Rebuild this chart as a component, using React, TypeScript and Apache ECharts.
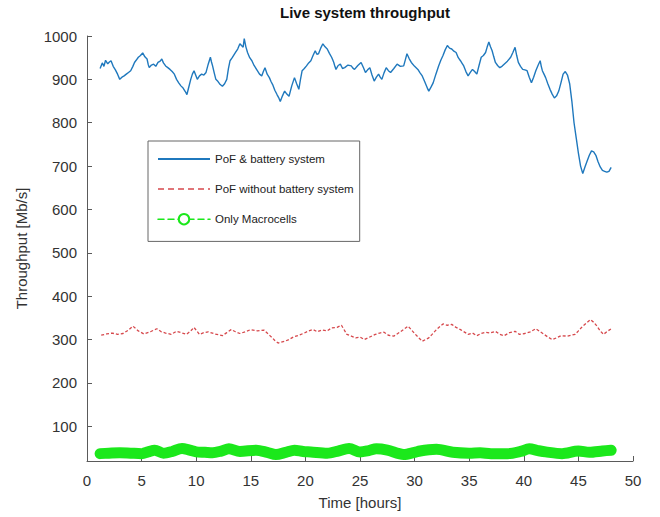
import React, { useEffect, useRef } from "react";
import * as echarts from "echarts";

const xTicks = [0, 5, 10, 15, 20, 25, 30, 35, 40, 45, 50];
const yTicks = [100, 200, 300, 400, 500, 600, 700, 800, 900, 1000];

const seriesNames = ["PoF & battery system", "PoF without battery system", "Only Macrocells"];

const pofBattery: [number, number][] = [
  [1.2,925],[1.4,938],[1.55,930],[1.7,944],[1.9,936],[2.05,940],[2.2,943],[2.4,930],[2.6,922],[2.8,912],[3.0,900],[3.2,905],[3.4,908],[3.6,912],[3.8,916],[4.0,920],[4.2,930],[4.35,939],[4.5,944],[4.7,951],[4.9,955],[5.1,961],[5.3,952],[5.5,947],[5.6,935],[5.7,927],[5.9,933],[6.1,935],[6.3,930],[6.5,939],[6.7,942],[6.85,947],[7.0,938],[7.2,931],[7.4,927],[7.6,923],[7.8,918],[8.0,912],[8.2,900],[8.4,892],[8.6,885],[8.8,880],[9.0,872],[9.15,865],[9.3,880],[9.5,900],[9.65,912],[9.8,920],[9.95,910],[10.1,900],[10.3,908],[10.5,912],[10.7,910],[10.9,916],[11.1,935],[11.3,951],[11.4,940],[11.5,931],[11.65,915],[11.8,900],[12.0,895],[12.2,888],[12.4,884],[12.6,890],[12.8,900],[12.95,925],[13.1,943],[13.3,950],[13.6,962],[13.8,970],[14.0,982],[14.15,978],[14.3,974],[14.4,994],[14.55,975],[14.7,962],[14.9,950],[15.1,943],[15.3,932],[15.6,920],[15.8,912],[16.0,908],[16.15,918],[16.3,927],[16.5,912],[16.7,904],[16.85,895],[17.0,888],[17.2,875],[17.4,865],[17.55,858],[17.7,849],[17.9,862],[18.1,873],[18.3,866],[18.5,861],[18.75,885],[19.0,904],[19.2,890],[19.4,877],[19.55,900],[19.7,920],[19.9,925],[20.1,931],[20.3,938],[20.5,943],[20.7,955],[20.9,966],[21.05,958],[21.2,959],[21.4,972],[21.6,982],[21.8,975],[22.0,970],[22.2,960],[22.4,951],[22.5,945],[22.6,939],[22.7,930],[22.8,923],[23.0,932],[23.2,935],[23.4,925],[23.6,927],[23.9,933],[24.2,931],[24.35,926],[24.5,923],[24.8,932],[25.1,939],[25.3,928],[25.5,916],[25.7,922],[25.9,927],[26.1,910],[26.3,896],[26.5,905],[26.7,912],[26.85,905],[27.0,900],[27.2,915],[27.4,927],[27.6,920],[27.8,916],[28.1,925],[28.4,935],[28.7,930],[29.0,931],[29.15,945],[29.3,959],[29.5,948],[29.7,939],[30.0,930],[30.3,923],[30.5,915],[30.7,908],[30.9,896],[31.1,884],[31.2,878],[31.3,873],[31.5,882],[31.7,892],[31.95,912],[32.2,931],[32.4,944],[32.6,955],[32.8,968],[33.0,978],[33.2,972],[33.4,970],[33.6,965],[33.8,962],[34.0,950],[34.2,943],[34.35,937],[34.5,931],[34.7,918],[34.9,908],[35.1,916],[35.3,923],[35.5,918],[35.7,912],[35.9,932],[36.1,951],[36.3,955],[36.5,962],[36.65,975],[36.8,986],[36.95,975],[37.1,966],[37.25,952],[37.4,939],[37.6,932],[37.8,927],[38.0,930],[38.2,935],[38.5,942],[38.8,951],[39.0,962],[39.2,974],[39.35,955],[39.5,939],[39.7,930],[39.9,923],[40.1,922],[40.3,920],[40.5,905],[40.7,892],[40.9,905],[41.1,920],[41.3,932],[41.5,943],[41.6,930],[41.7,920],[41.85,912],[42.0,904],[42.2,890],[42.4,877],[42.6,866],[42.8,857],[43.0,862],[43.2,873],[43.4,892],[43.6,912],[43.8,918],[44.0,910],[44.2,890],[44.4,850],[44.6,800],[44.8,765],[45.0,730],[45.2,700],[45.4,683],[45.6,698],[45.8,712],[46.0,725],[46.2,735],[46.4,733],[46.6,725],[46.8,710],[47.0,698],[47.2,690],[47.4,688],[47.6,686],[47.8,688],[48.0,697]
];

const pofNoBattery: [number, number][] = [
  [1.3,310],[1.8,313],[2.3,315],[2.8,312],[3.3,314],[3.8,322],[4.2,331],[4.7,320],[5.2,313],[5.8,318],[6.4,325],[6.8,318],[7.2,315],[7.7,312],[8.2,319],[8.6,316],[9.1,312],[9.5,320],[9.8,328],[10.3,312],[10.7,316],[11.1,318],[11.7,313],[12.4,309],[12.8,316],[13.2,323],[13.6,318],[14.0,314],[14.5,318],[15.0,323],[15.6,320],[16.2,322],[16.8,308],[17.2,298],[17.5,292],[18.1,296],[18.5,300],[18.9,306],[19.4,310],[19.9,315],[20.3,320],[20.7,323],[21.1,318],[21.5,322],[22.0,320],[22.4,327],[22.9,328],[23.3,333],[23.8,312],[24.2,308],[24.6,304],[25.0,306],[25.4,300],[25.9,306],[26.4,312],[26.8,315],[27.2,317],[27.6,310],[28.1,308],[28.7,318],[29.4,331],[30.0,314],[30.7,296],[31.3,304],[31.6,312],[32.0,323],[32.6,336],[33.0,333],[33.4,335],[33.8,328],[34.2,323],[34.9,312],[35.3,315],[35.7,309],[36.1,314],[36.5,317],[36.9,315],[37.4,319],[37.8,312],[38.2,309],[38.7,316],[39.2,319],[39.6,312],[40.1,314],[40.6,318],[41.1,325],[41.8,313],[42.2,306],[42.6,300],[43.0,304],[43.4,309],[44.0,308],[44.7,312],[45.0,320],[45.4,331],[46.1,346],[46.4,340],[46.7,331],[47.0,320],[47.3,312],[47.6,318],[48.0,325]
];

const macrocells: [number, number][] = [
  [1.2,37],[2.0,38],[3.0,39],[4.0,38],[5.0,37],[5.6,41],[6.2,45],[7.0,38],[7.8,42],[8.7,49],[9.4,45],[10.0,41],[10.8,40],[11.5,39],[12.3,43],[13.0,48],[14.0,42],[15.5,45],[16.5,40],[17.3,35],[18.2,40],[19.0,45],[19.8,42],[20.5,41],[22.0,38],[23.0,43],[24.0,49],[25.0,41],[25.8,44],[26.5,48],[27.5,45],[29.0,35],[30.0,40],[30.5,43],[31.3,46],[32.0,47],[33.5,40],[35.0,38],[36.0,39],[37.0,37],[38.5,37],[39.7,42],[40.5,48],[41.3,44],[42.0,41],[43.5,37],[45.0,43],[46.0,40],[47.2,43],[48.0,45]
];

const AXIS = "#5a5a5a";
const TEXT = "#333333";
const FONT = "Liberation Sans, Arial, sans-serif";

export default function App() {
  const ref = useRef<HTMLDivElement>(null);
  useEffect(() => {
    if (!ref.current) return;
    const chart = echarts.init(ref.current, null, { renderer: "svg" });
    chart.setOption({
      animation: false,
      backgroundColor: "#ffffff",
      title: {
        text: "Live system throughput",
        left: 360,
        textAlign: "center",
        top: 0,
        textStyle: { fontFamily: FONT, fontSize: 15, fontWeight: "bold", color: "#111" },
      },
      grid: { left: 87, right: 27, top: 36, bottom: 56 },
      legend: {
        orient: "vertical",
        left: 148,
        top: 141,
        padding: [12, 6, 16, 9],
        itemGap: 18,
        itemWidth: 52,
        itemHeight: 13,
        borderColor: "#666",
        borderWidth: 1,
        backgroundColor: "#fff",
        textStyle: { fontFamily: FONT, fontSize: 11.5, color: "#222" },
        data: [
          { name: seriesNames[0], itemStyle: { opacity: 0 } },
          { name: seriesNames[1], itemStyle: { opacity: 0 }, lineStyle: { type: [6, 4], width: 1.3 } },
          { name: seriesNames[2], lineStyle: { width: 1.5, type: [6, 4] } },
        ],
      },
      xAxis: {
        type: "value",
        min: xTicks[0],
        max: xTicks[xTicks.length - 1],
        interval: 5,
        name: "Time [hours]",
        nameLocation: "middle",
        nameGap: 34,
        nameTextStyle: { fontFamily: FONT, fontSize: 15, color: TEXT },
        axisLine: { show: true, lineStyle: { color: AXIS, width: 1 } },
        axisTick: { show: true, inside: true, length: 5, lineStyle: { color: AXIS } },
        axisLabel: { fontFamily: FONT, fontSize: 15, color: TEXT, margin: 12 },
        splitLine: { show: false },
      },
      yAxis: {
        type: "value",
        min: 20,
        max: yTicks[yTicks.length - 1],
        splitNumber: 10,
        name: "Throughput [Mb/s]",
        nameLocation: "middle",
        nameGap: 58,
        nameTextStyle: { fontFamily: FONT, fontSize: 15, color: TEXT },
        axisLine: { show: true, lineStyle: { color: AXIS, width: 1 } },
        axisTick: { show: true, inside: true, length: 5, lineStyle: { color: AXIS } },
        axisLabel: {
          fontFamily: FONT,
          fontSize: 15,
          color: TEXT,
          margin: 10,
          formatter: (v: number) => (yTicks.indexOf(v) >= 0 ? String(v) : ""),
        },
        splitLine: { show: false },
      },
      series: [
        {
          name: seriesNames[0],
          type: "line",
          data: pofBattery,
          symbol: "none",
          lineStyle: { color: "#1f78bd", width: 1.4 },
          itemStyle: { color: "#1f78bd" },
          z: 3,
        },
        {
          name: seriesNames[1],
          type: "line",
          data: pofNoBattery,
          symbol: "none",
          lineStyle: { color: "#d6484c", width: 1.3, type: [3, 2] },
          itemStyle: { color: "#d6484c" },
          z: 2,
        },
        {
          name: seriesNames[2],
          type: "line",
          data: macrocells,
          symbol: "emptyCircle",
          showSymbol: false,
          symbolSize: 9,
          smooth: 0.3,
          lineStyle: { color: "#1be81b", width: 11, cap: "round", join: "round" },
          itemStyle: { color: "#1be81b", borderWidth: 1.5 },
          z: 1,
        },
      ],
    });
    return () => chart.dispose();
  }, []);
  return (
    <div
      ref={ref}
      style={{ position: "fixed", left: 0, top: 0, width: 660, height: 517, background: "#fff" }}
    />
  );
}
